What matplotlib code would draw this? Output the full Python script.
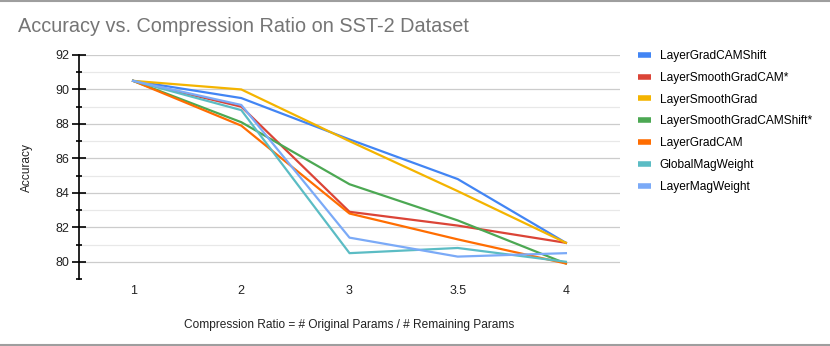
import matplotlib.pyplot as plt
from matplotlib.lines import Line2D

plt.rcParams['font.family'] = ['Liberation Sans', 'DejaVu Sans']

# x categories (compression ratio)
ratios = ['1', '2', '3', '3.5', '4']

grad_cam_shift = [90.5, 89.5, 87.1, 84.8, 81.1]
smooth_grad_cam = [90.5, 89.0, 82.9, 82.1, 81.1]
smooth_grad = [90.5, 90.0, 87.0, 84.1, 81.1]
smooth_grad_cam_shift = [90.5, 88.1, 84.5, 82.4, 79.9]
grad_cam = [90.5, 87.9, 82.8, 81.3, 79.9]
global_mag = [90.5, 88.8, 80.5, 80.8, 80.0]
layer_mag = [90.5, 89.1, 81.4, 80.3, 80.5]

series = [
    ('LayerGradCAMShift', grad_cam_shift, '#4285F4'),
    ('LayerSmoothGradCAM*', smooth_grad_cam, '#DB4437'),
    ('LayerSmoothGrad', smooth_grad, '#F4B400'),
    ('LayerSmoothGradCAMShift*', smooth_grad_cam_shift, '#4CA853'),
    ('LayerGradCAM', grad_cam, '#FF6D01'),
    ('GlobalMagWeight', global_mag, '#5BBCC4'),
    ('LayerMagWeight', layer_mag, '#7BAAF7'),
]

fig = plt.figure(figsize=(8.3, 3.46), dpi=100)
ax = fig.add_axes([79 / 830, 1 - 279 / 346, 541 / 830, 224 / 346])

x = list(range(len(ratios)))
for name, vals, col in series:
    ax.plot(x, vals, color=col, lw=1.6, label=name, zorder=3)

ax.set_xlim(-0.5, len(ratios) - 0.5)
ax.set_ylim(79, 92)
ax.set_xticks(x)
ax.set_xticklabels(ratios)
ax.set_yticks(range(80, 93, 2))
ax.set_yticks(range(79, 92, 2), minor=True)

for v in range(80, 93, 2):
    ax.axhline(v, color='#cccccc', lw=0.9, zorder=1)
for v in range(81, 92, 2):
    ax.axhline(v, color='#e8e8e8', lw=0.9, zorder=1)

for s in ['top', 'right', 'bottom']:
    ax.spines[s].set_visible(False)
ax.spines['left'].set_color('black')
ax.spines['left'].set_linewidth(1.2)
ax.tick_params(axis='y', which='major', direction='inout', length=10, width=1.2,
               labelsize=9, colors='black', labelcolor='#222222', pad=2)
ax.tick_params(axis='y', which='minor', direction='inout', length=5, width=1.2)
ax.tick_params(axis='x', length=0, labelsize=9, labelcolor='#222222', pad=4)

ax.set_xlabel('Compression Ratio = # Original Params / # Remaining Params',
              fontsize=8.6, color='#222222', labelpad=16)
ax.set_ylabel('Accuracy', fontsize=8.6, color='#222222', labelpad=16)

fig.text(18 / 830, 1 - 27 / 346, 'Accuracy vs. Compression Ratio on SST-2 Dataset',
         fontsize=14.3, color='#757575', va='center', ha='left')

handles = [Line2D([], [], color=c, lw=4, solid_capstyle='butt') for _, _, c in series]
fig.legend(handles, [n for n, _, _ in series], loc='upper left',
           bbox_to_anchor=(638 / 830, 1 - 50 / 346), frameon=False,
           fontsize=8.6, handlelength=1.05, handletextpad=0.75,
           labelspacing=0.82, borderaxespad=0, borderpad=0)

fig.add_artist(Line2D([0, 1], [1 - 0.5 / 346, 1 - 0.5 / 346], color='#9e9e9e', lw=1.5))
fig.add_artist(Line2D([0, 1], [1 - 345 / 346, 1 - 345 / 346], color='#9e9e9e', lw=1.5))

fig.savefig('out.png', dpi=100, facecolor='white')
